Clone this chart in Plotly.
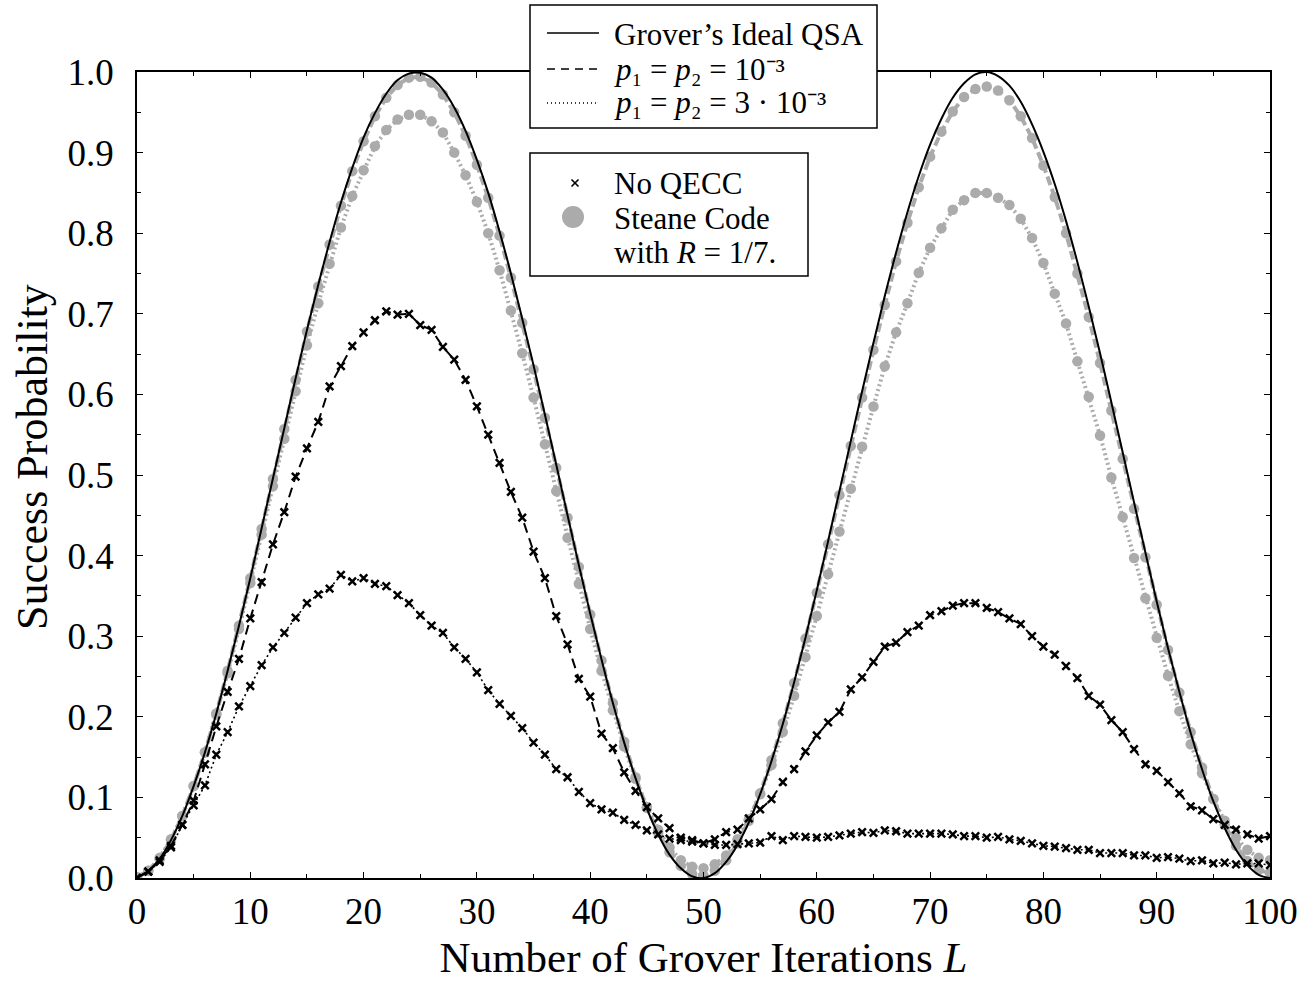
import plotly.graph_objects as go

# ---------------- data ----------------
L = list(range(0, 101))

ideal = [0.001, 0.009, 0.024, 0.047, 0.077, 0.114, 0.156, 0.204, 0.257, 0.313,
         0.372, 0.434, 0.496, 0.558, 0.620, 0.680, 0.736, 0.789, 0.838, 0.881,
         0.919, 0.949, 0.973, 0.990, 0.998, 0.999, 0.993, 0.978, 0.956, 0.927,
         0.891, 0.850, 0.802, 0.750, 0.694, 0.636, 0.575, 0.513, 0.450, 0.388,
         0.328, 0.271, 0.217, 0.168, 0.124, 0.086, 0.054, 0.029, 0.012, 0.002,
         0.000, 0.006, 0.020, 0.041, 0.069, 0.104, 0.145, 0.191, 0.243, 0.298,
         0.357, 0.418, 0.480, 0.542, 0.604, 0.664, 0.722, 0.776, 0.826, 0.871,
         0.910, 0.942, 0.968, 0.986, 0.997, 1.000, 0.995, 0.983, 0.963, 0.935,
         0.901, 0.861, 0.815, 0.764, 0.709, 0.651, 0.590, 0.528, 0.466, 0.404,
         0.343, 0.285, 0.231, 0.180, 0.135, 0.095, 0.062, 0.035, 0.016, 0.004,
         0.000]

steane_1e3 = [0.001, 0.009, 0.024, 0.047, 0.077, 0.114, 0.156, 0.204, 0.257, 0.313,
              0.372, 0.433, 0.495, 0.557, 0.618, 0.678, 0.734, 0.786, 0.834, 0.877,
              0.914, 0.945, 0.968, 0.984, 0.993, 0.994, 0.987, 0.972, 0.950, 0.921,
              0.885, 0.844, 0.797, 0.745, 0.689, 0.631, 0.571, 0.509, 0.447, 0.386,
              0.327, 0.270, 0.217, 0.169, 0.125, 0.087, 0.056, 0.032, 0.015, 0.005,
              0.003, 0.009, 0.022, 0.043, 0.071, 0.105, 0.146, 0.192, 0.242, 0.297,
              0.354, 0.414, 0.475, 0.536, 0.596, 0.655, 0.711, 0.765, 0.813, 0.857,
              0.895, 0.926, 0.951, 0.969, 0.979, 0.982, 0.977, 0.965, 0.945, 0.918,
              0.884, 0.845, 0.800, 0.750, 0.696, 0.639, 0.580, 0.520, 0.458, 0.398,
              0.339, 0.283, 0.230, 0.181, 0.137, 0.098, 0.066, 0.040, 0.021, 0.010,
              0.006]

steane_3e3 = [0.001, 0.009, 0.025, 0.048, 0.077, 0.114, 0.156, 0.203, 0.254, 0.309,
              0.366, 0.426, 0.486, 0.545, 0.604, 0.661, 0.713, 0.762, 0.807, 0.846,
              0.878, 0.908, 0.928, 0.941, 0.947, 0.947, 0.939, 0.925, 0.900, 0.872,
              0.839, 0.800, 0.754, 0.704, 0.651, 0.596, 0.538, 0.480, 0.422, 0.365,
              0.309, 0.257, 0.208, 0.163, 0.123, 0.088, 0.060, 0.038, 0.022, 0.014,
              0.012, 0.017, 0.028, 0.048, 0.073, 0.104, 0.140, 0.181, 0.226, 0.274,
              0.325, 0.377, 0.430, 0.483, 0.535, 0.585, 0.635, 0.677, 0.713, 0.751,
              0.782, 0.806, 0.829, 0.841, 0.850, 0.850, 0.844, 0.835, 0.818, 0.794,
              0.763, 0.725, 0.688, 0.641, 0.597, 0.549, 0.497, 0.448, 0.397, 0.347,
              0.298, 0.251, 0.207, 0.166, 0.130, 0.098, 0.071, 0.050, 0.035, 0.025,
              0.022]

noqecc_1e3 = [0.000, 0.008, 0.022, 0.040, 0.066, 0.096, 0.141, 0.188, 0.231, 0.272,
              0.322, 0.367, 0.414, 0.454, 0.498, 0.533, 0.566, 0.610, 0.635, 0.660,
              0.677, 0.692, 0.703, 0.699, 0.700, 0.686, 0.680, 0.659, 0.643, 0.618,
              0.585, 0.550, 0.515, 0.479, 0.447, 0.405, 0.372, 0.325, 0.290, 0.247,
              0.225, 0.179, 0.161, 0.131, 0.108, 0.088, 0.074, 0.062, 0.050, 0.047,
              0.043, 0.048, 0.057, 0.060, 0.074, 0.085, 0.098, 0.119, 0.135, 0.157,
              0.177, 0.193, 0.206, 0.234, 0.249, 0.268, 0.287, 0.292, 0.305, 0.313,
              0.326, 0.331, 0.338, 0.341, 0.341, 0.335, 0.330, 0.322, 0.315, 0.300,
              0.287, 0.277, 0.263, 0.248, 0.226, 0.215, 0.196, 0.181, 0.160, 0.141,
              0.133, 0.119, 0.105, 0.089, 0.084, 0.073, 0.066, 0.060, 0.054, 0.049,
              0.052]

noqecc_3e3 = [0.000, 0.008, 0.020, 0.038, 0.066, 0.090, 0.115, 0.153, 0.181, 0.213,
              0.238, 0.264, 0.286, 0.304, 0.323, 0.341, 0.352, 0.359, 0.376, 0.368,
              0.372, 0.365, 0.362, 0.351, 0.341, 0.326, 0.313, 0.304, 0.286, 0.272,
              0.255, 0.233, 0.216, 0.201, 0.186, 0.168, 0.153, 0.135, 0.125, 0.107,
              0.093, 0.085, 0.081, 0.072, 0.066, 0.059, 0.054, 0.049, 0.047, 0.045,
              0.043, 0.041, 0.041, 0.042, 0.043, 0.044, 0.052, 0.047, 0.052, 0.051,
              0.050, 0.051, 0.053, 0.055, 0.057, 0.056, 0.059, 0.058, 0.055, 0.055,
              0.055, 0.055, 0.054, 0.052, 0.052, 0.050, 0.051, 0.048, 0.046, 0.043,
              0.040, 0.039, 0.037, 0.035, 0.035, 0.031, 0.031, 0.031, 0.028, 0.028,
              0.025, 0.026, 0.024, 0.021, 0.022, 0.018, 0.019, 0.017, 0.018, 0.018,
              0.016]

x_ticks = [0, 10, 20, 30, 40, 50, 60, 70, 80, 90, 100]
y_ticks = [0.0, 0.1, 0.2, 0.3, 0.4, 0.5, 0.6, 0.7, 0.8, 0.9, 1.0]

legend_lines = ["Grover’s Ideal QSA",
                "<i>p</i>₁ = <i>p</i>₂ = 10⁻³",
                "<i>p</i>₁ = <i>p</i>₂ = 3 · 10⁻³"]
legend_marks = ["No QECC", "Steane Code", "with <i>R</i> = 1/7."]

GRAY = "#ababab"
FONT = "Liberation Serif"

# figure geometry (pixels)
W, H = 1312, 981
PL, PR, PT, PB = 137, 1270, 72, 878


def px(x):
    return (x - PL) / (PR - PL)


def py(y):
    return (PB - y) / (PB - PT)


fig = go.Figure()

# --- data traces ---
fig.add_trace(go.Scatter(x=L, y=steane_3e3, mode="lines+markers", showlegend=False,
                         line=dict(color=GRAY, width=4, dash="2px,3px"),
                         marker=dict(color=GRAY, size=10.5, symbol="circle")))
fig.add_trace(go.Scatter(x=L, y=steane_1e3, mode="lines+markers", showlegend=False,
                         line=dict(color=GRAY, width=4, dash="9px,4px"),
                         marker=dict(color=GRAY, size=10.5, symbol="circle")))
fig.add_trace(go.Scatter(x=L, y=ideal, mode="lines", showlegend=False,
                         line=dict(color="black", width=2, shape="spline")))
fig.add_trace(go.Scatter(x=L, y=noqecc_1e3, mode="lines+markers", showlegend=False,
                         line=dict(color="black", width=2, dash="10px,6px"),
                         marker=dict(color="black", size=7.5, symbol="x-thin",
                                     line=dict(color="black", width=2.5))))
fig.add_trace(go.Scatter(x=L, y=noqecc_3e3, mode="lines+markers", showlegend=False,
                         line=dict(color="black", width=1.6, dash="2px,3px"),
                         marker=dict(color="black", size=7.5, symbol="x-thin",
                                     line=dict(color="black", width=2.5))))

axis_common = dict(showline=True, linecolor="black", linewidth=1.5, mirror="allticks",
                   ticks="inside", ticklen=6, tickcolor="black", tickwidth=1,
                   showgrid=False, zeroline=False,
                   tickfont=dict(family=FONT, size=37, color="black"))

fig.update_xaxes(range=[0, 100], tickvals=x_ticks, ticktext=[str(v) for v in x_ticks],
                 minor=dict(dtick=5, tick0=0, ticks="inside", ticklen=4, tickcolor="black"),
                 title=dict(text="Number of Grover Iterations <i>L</i>",
                            font=dict(family=FONT, size=43, color="black"), standoff=18),
                 ticklabelstandoff=0, **axis_common)
fig.update_yaxes(range=[0, 1.0], tickvals=y_ticks, ticktext=[f"{v:.1f}" for v in y_ticks],
                 minor=dict(dtick=0.05, tick0=0, ticks="inside", ticklen=4, tickcolor="black"),
                 ticklabelstandoff=14, **axis_common)

shapes = []
annotations = []

# y-axis title (placed where the reference has it, slightly above the centre)
annotations.append(dict(text="Success Probability", x=px(32), y=py(457),
                        xref="paper", yref="paper", xanchor="center", yanchor="middle",
                        textangle=-90, showarrow=False,
                        font=dict(family=FONT, size=44, color="black")))

# --- hand-made legend boxes (drawn in paper space, above the plot) ---
box_style = dict(type="rect", xref="paper", yref="paper", layer="above",
                 fillcolor="white", line=dict(color="black", width=1.5))
shapes.append(dict(x0=px(530), x1=px(877), y0=py(128), y1=py(5), **box_style))
shapes.append(dict(x0=px(530), x1=px(808), y0=py(276), y1=py(153), **box_style))

# line samples of legend 1
sample_dash = ["solid", "8px,6px", "1px,3px"]
sample_y = [33, 69, 103]
for dash, yy in zip(sample_dash, sample_y):
    shapes.append(dict(type="line", xref="paper", yref="paper", layer="above",
                       x0=px(547), x1=px(599), y0=py(yy), y1=py(yy),
                       line=dict(color="black", width=1.3, dash=dash)))

text_y1 = [34, 69, 103]
for txt, yy in zip(legend_lines, text_y1):
    annotations.append(dict(text=txt, x=px(612), y=py(yy), xref="paper", yref="paper",
                            xanchor="left", yanchor="middle", showarrow=False,
                            font=dict(family=FONT, size=31, color="black")))

# marker samples of legend 2
cx, cy, r = 575, 183, 3.5
shapes.append(dict(type="line", xref="paper", yref="paper", layer="above",
                   x0=px(cx - r), x1=px(cx + r), y0=py(cy - r), y1=py(cy + r),
                   line=dict(color="black", width=1.6)))
shapes.append(dict(type="line", xref="paper", yref="paper", layer="above",
                   x0=px(cx - r), x1=px(cx + r), y0=py(cy + r), y1=py(cy - r),
                   line=dict(color="black", width=1.6)))
shapes.append(dict(type="circle", xref="paper", yref="paper", layer="above",
                   x0=px(562), x1=px(584), y0=py(228), y1=py(206),
                   fillcolor=GRAY, line=dict(color=GRAY, width=0)))

text_y2 = [183, 218, 253]
for txt, yy in zip(legend_marks, text_y2):
    annotations.append(dict(text=txt, x=px(612), y=py(yy), xref="paper", yref="paper",
                            xanchor="left", yanchor="middle", showarrow=False,
                            font=dict(family=FONT, size=31, color="black")))

fig.update_layout(
    width=W, height=H,
    margin=dict(l=PL, r=W - PR, t=PT, b=H - PB, autoexpand=False),
    paper_bgcolor="white", plot_bgcolor="white",
    showlegend=False,
    shapes=shapes, annotations=annotations,
)

fig.write_html("out.html")
